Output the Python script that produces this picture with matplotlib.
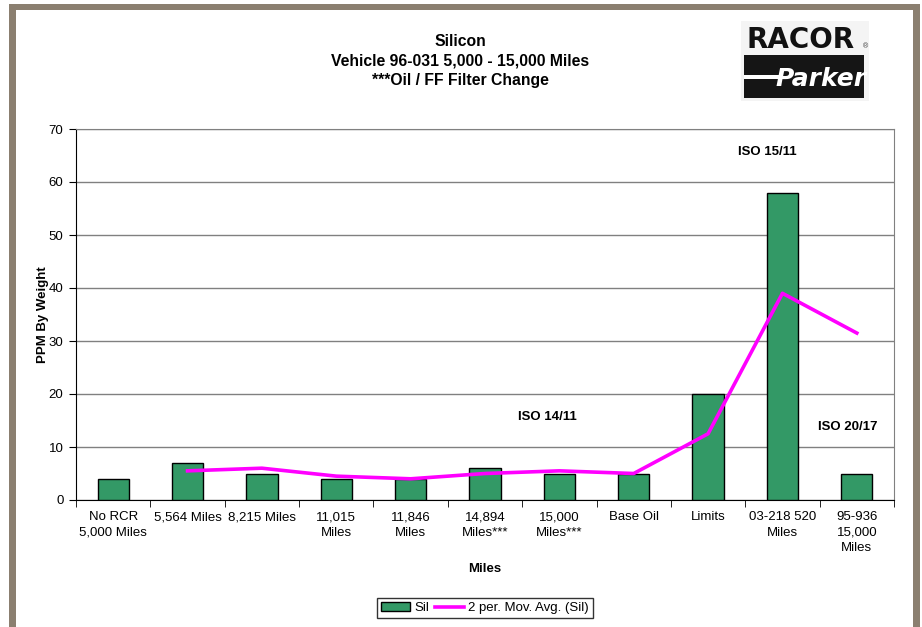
import numpy as np
import matplotlib.pyplot as plt
from matplotlib.patches import Rectangle

plt.rcParams['font.family'] = ['Liberation Sans', 'DejaVu Sans']

categories = ['No RCR\n5,000 Miles', '5,564 Miles', '8,215 Miles', '11,015\nMiles',
              '11,846\nMiles', '14,894\nMiles***', '15,000\nMiles***', 'Base Oil',
              'Limits', '03-218 520\nMiles', '95-936\n15,000\nMiles']
sil = [4, 7, 5, 4, 4, 6, 5, 5, 20, 58, 5]
iso_labels = ['ISO 15/11', 'ISO 14/11', 'ISO 20/17']
iso_pos = [(8.8, 65.7), (5.84, 15.7), (9.88, 13.8)]

# 2-period moving average of the silicon readings
mov_avg = [(sil[i - 1] + sil[i]) / 2 for i in range(1, len(sil))]

fig = plt.figure(figsize=(9.22, 6.27), dpi=100)
ax = fig.add_axes([76 / 922, 1 - 500 / 627, 818 / 922, 371 / 627])

x = np.arange(len(sil))
bars = ax.bar(x, sil, width=0.42, color='#339966', edgecolor='black', linewidth=1, zorder=3)
line, = ax.plot(x[1:], mov_avg, color='#FF00FF', linewidth=2.6, zorder=4)

ax.set_xlim(-0.5, len(sil) - 0.5)
ax.set_ylim(0, 70)
ax.set_yticks(range(0, 71, 10))
ax.yaxis.grid(True, color='#808080', linewidth=1)
ax.set_axisbelow(True)
ax.tick_params(axis='y', direction='out', length=5, labelsize=9.5, pad=4)

ax.set_xticks(x)
ax.set_xticklabels(categories, fontsize=9.5, linespacing=1.4, va='top')
ax.set_xticks(np.arange(-0.5, len(sil), 1), minor=True)
ax.tick_params(axis='x', which='major', length=0, pad=8)
ax.tick_params(axis='x', which='minor', direction='out', length=5)

for side in ['top', 'right']:
    ax.spines[side].set_color('#808080')
ax.spines['left'].set_color('black')
ax.spines['bottom'].set_color('black')

ax.set_ylabel('PPM By Weight', fontsize=9.5, fontweight='bold', labelpad=0)
ax.set_xlabel('Miles', fontsize=9.5, fontweight='bold', labelpad=6)

for txt, (px, py) in zip(iso_labels, iso_pos):
    ax.text(px, py, txt, fontsize=9.5, fontweight='bold', ha='center', va='center')

fig.text(460 / 922, 1 - 61 / 627, 'Silicon\nVehicle 96-031 5,000 - 15,000 Miles\n***Oil / FF Filter Change',
         ha='center', va='center', fontsize=11.3, fontweight='bold', linespacing=1.4)

leg = fig.legend([bars, line], ['Sil', '2 per. Mov. Avg. (Sil)'], loc='center',
                 bbox_to_anchor=(485 / 922, 1 - 608 / 627), ncol=2, fontsize=9.5,
                 frameon=True, fancybox=False, edgecolor='black', handlelength=2.2,
                 handletextpad=0.3, columnspacing=0.5, borderpad=0.3,
                 handleheight=0.6)
leg.get_frame().set_linewidth(1)

# brown frame around the chart sheet
frame_col = '#8B7F70'
fig.add_artist(Rectangle((9 / 922, 0), 7 / 922, 1 - 4 / 627, transform=fig.transFigure,
                         facecolor=frame_col, edgecolor='none'))
fig.add_artist(Rectangle((9 / 922, 1 - 10 / 627), 911 / 922, 6 / 627, transform=fig.transFigure,
                         facecolor=frame_col, edgecolor='none'))
fig.add_artist(Rectangle((913 / 922, 0), 7 / 922, 1 - 4 / 627, transform=fig.transFigure,
                         facecolor=frame_col, edgecolor='none'))

# Racor / Parker logo
fig.add_artist(Rectangle((741 / 922, 1 - 101 / 627), 128 / 922, 80 / 627, transform=fig.transFigure,
                         facecolor='#f4f4f4', edgecolor='none'))
fig.text(801 / 922, 1 - 40 / 627, 'RACOR', ha='center', va='center', fontsize=20,
         fontweight='bold', color='#111111', family='DejaVu Sans')
fig.text(865 / 922, 1 - 47 / 627, '®', ha='center', va='center', fontsize=5, color='#333333')
fig.add_artist(Rectangle((744 / 922, 1 - 98 / 627), 120 / 922, 43 / 627, transform=fig.transFigure,
                         facecolor='#151515', edgecolor='none'))
fig.add_artist(Rectangle((744 / 922, 1 - 79 / 627), 36 / 922, 4 / 627, transform=fig.transFigure,
                         facecolor='white', edgecolor='none'))
fig.text(821 / 922, 1 - 79 / 627, 'Parker', ha='center', va='center', fontsize=18,
         fontweight='bold', style='italic', color='white', family='DejaVu Sans')

fig.savefig('out.png', dpi=100)
